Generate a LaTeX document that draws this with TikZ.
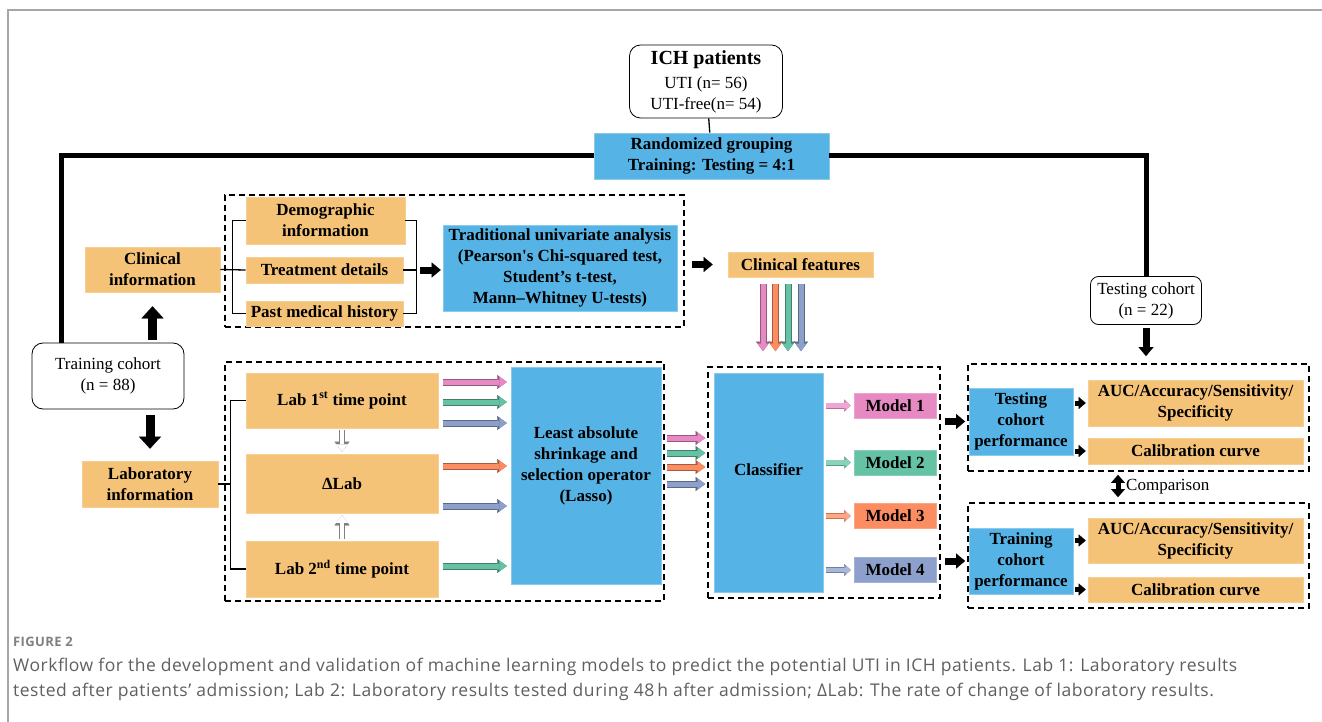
\documentclass[tikz,border=0pt]{standalone}
\usepackage{fontspec}
\setmainfont{Liberation Serif}
\newfontfamily\capfont[LetterSpace=3]{Open Sans}
\usetikzlibrary{arrows.meta, calc}

\definecolor{boxorange}{RGB}{245,195,120}
\definecolor{boxblue}{RGB}{86,179,230}
\definecolor{mpink}{RGB}{231,138,195}
\definecolor{mgreen}{RGB}{102,194,165}
\definecolor{morange}{RGB}{252,141,98}
\definecolor{mblue}{RGB}{141,160,203}
\definecolor{capgray}{RGB}{95,95,95}

\begin{document}
\begin{tikzpicture}[x=1pt, y=-1pt, font=\fontsize{17}{21}\selectfont,
    every node/.append style={align=center, inner sep=1pt},
    obox/.style={fill=boxorange, draw=boxorange!80!white, line width=0.6pt, font=\fontsize{17}{21}\selectfont\bfseries},
    bbox/.style={fill=boxblue, draw=boxblue!70!white, line width=0.6pt, font=\fontsize{17}{21}\selectfont\bfseries},
    rbox/.style={draw, fill=white, line width=0.8pt, rounded corners=11pt},
    grp/.style={draw, line width=1.8pt, dash pattern=on 6pt off 4pt},
    trunk/.style={line width=5pt},
    link/.style={line width=1.3pt},
    bigarr/.style={line width=9pt, -{Triangle[length=12pt, width=22pt, line width=0.1pt]}},
    midarr/.style={line width=7pt, -{Triangle[length=9pt, width=15pt, line width=0.1pt]}},
    smlarr/.style={line width=5pt, -{Triangle[length=7pt, width=12pt, line width=0.1pt]}},
    cmparr/.style={line width=5pt, {Triangle[length=8pt, width=14pt, line width=0.1pt]}-{Triangle[length=8pt, width=14pt, line width=0.1pt]}},
    fatarr/.style 2 args={draw=#1, line width=5pt, -{Triangle[length=7.5pt, width=11pt, line width=0.1pt]},
      preaction={draw=#2, line width=7pt, -{Triangle[length=9.5pt, width=14pt, line width=0.1pt]}}},
    modarr/.style 2 args={draw=#1, line width=4.2pt, -{Triangle[length=5pt, width=9pt, line width=0.1pt]},
      preaction={draw=#2, line width=6pt, -{Triangle[length=6.5pt, width=12pt, line width=0.1pt]}}},
    holarr/.style={draw=white, line width=4.4pt, -{Triangle[length=7.5pt, width=11.5pt, line width=0.1pt]},
      preaction={draw=gray, line width=6.6pt, -{Triangle[length=10pt, width=15pt, line width=0.1pt]}}}]
  \useasboundingbox (0,0) rectangle (1322,722);
  \draw[gray!70, line width=2pt] (8,722) -- (8,10) -- (1322,10);

  % cohort split
  \node (ich) [rbox] at (706,81.5) [minimum width=153pt, minimum height=73pt]
    {{\fontsize{20}{22}\selectfont\bfseries ICH patients}\\[3pt]UTI (n= 56)\\UTI-free(n= 54)};
  \node (rand) [bbox, minimum width=235pt, minimum height=46pt] at (711.5,156) {Randomized grouping\\Training: Testing = 4:1};
  \node (train) [rbox, minimum width=152pt, minimum height=66pt] at (108,376) {Training cohort\\(n = 88)};
  \node (test) [rbox, rounded corners=8pt, minimum width=111pt, minimum height=48pt] at (1146,300.5) {Testing cohort\\(n = 22)};
  \node (clin) [obox, minimum width=135pt, minimum height=45pt] at (152.5,269.5) {Clinical\\information};
  \node (labinfo) [obox, minimum width=136pt, minimum height=46pt] at (150,484) {Laboratory\\information};

  % dashed groups
  \node (clingrp) [grp, minimum width=459pt, minimum height=132pt] at (454.5,261) {};
  \node (labgrp) [grp, minimum width=439pt, minimum height=239pt] at (444.5,481.5) {};
  \node (clsgrp) [grp, minimum width=232pt, minimum height=231pt] at (824,482.5) {};
  \node (testgrp) [grp, minimum width=341pt, minimum height=107pt] at (1138.5,417.5) {};
  \node (traingrp) [grp, minimum width=341pt, minimum height=105pt] at (1138.5,555.5) {};

  % clinical branch
  \node (demo) [obox, minimum width=159pt, minimum height=47pt] at (325.5,220.5) {Demographic\\information};
  \node (treat) [obox, minimum width=157pt, minimum height=26pt] at (324.5,270) {Treatment details};
  \node (past) [obox, minimum width=157pt, minimum height=25pt] at (324.5,313.5) {Past medical history};
  \node (trad) [bbox, minimum width=234pt, minimum height=86pt] at (560,268)
    {Traditional univariate analysis\\(Pearson\textquotesingle s Chi-squared test,\\Student’s t-test,\\Mann–Whitney U-tests)};
  \node (clinfeat) [obox, minimum width=145pt, minimum height=25pt] at (800.5,264.5) {Clinical features};

  % laboratory branch
  \node (lab1) [obox, minimum width=192pt, minimum height=55pt] at (342,400.5) {Lab 1\textsuperscript{st} time point};
  \node (dlab) [obox, minimum width=192pt, minimum height=59pt] at (342,483.5) {ΔLab};
  \node (lab2) [obox, minimum width=192pt, minimum height=56pt] at (342,569) {Lab 2\textsuperscript{nd} time point};
  \node (lasso) [bbox, minimum width=150pt, minimum height=217pt, text depth=22pt] at (586,475.5)
    {Least absolute\\shrinkage and\\selection operator\\(Lasso)};

  % models
  \node (classif) [bbox, minimum width=109pt, minimum height=219pt, text depth=25pt] at (768.5,482.5) {Classifier};
  \node (m1) [obox, fill=mpink, draw=mpink!80!white, minimum width=82pt, minimum height=25pt] at (895,405.5) {Model 1};
  \node (m2) [obox, fill=mgreen, draw=mgreen!80!white, minimum width=82pt, minimum height=25pt] at (895,462.5) {Model 2};
  \node (m3) [obox, fill=morange, draw=morange!80!white, minimum width=82pt, minimum height=25pt] at (895,516) {Model 3};
  \node (m4) [obox, fill=mblue, draw=mblue!80!white, minimum width=82pt, minimum height=25pt] at (895,570) {Model 4};

  % evaluation
  \node (testperf) [bbox, minimum width=104pt, minimum height=67pt] at (1021,421.5) {Testing\\cohort\\performance};
  \node (auc1) [obox, minimum width=215pt, minimum height=46pt] at (1195.5,403) {AUC/Accuracy/Sensitivity/\\Specificity};
  \node (cal1) [obox, minimum width=215pt, minimum height=26pt] at (1195.5,451) {Calibration curve};
  \node (trainperf) [bbox, minimum width=104pt, minimum height=66pt] at (1021,561) {Training\\cohort\\performance};
  \node (auc2) [obox, minimum width=215pt, minimum height=45pt] at (1195.5,540.5) {AUC/Accuracy/Sensitivity/\\Specificity};
  \node (cal2) [obox, minimum width=215pt, minimum height=25pt] at (1195.5,589.5) {Calibration curve};
  \node (cmp) [anchor=west] at (1125,487) {Comparison};

  % trunk lines
  \draw[link] (ich) -- (rand);
  \draw[trunk] (rand.west) -| ($(train.north west)+(30,0)$);
  \draw[trunk] (rand.east) -| (test.north);
  \draw[bigarr, shorten <=3pt, shorten >=14pt] (clin.south |- train.north) -- (clin.south);
  \draw[bigarr, shorten <=6pt, shorten >=12pt] (labinfo.north |- train.south) -- (labinfo.north);
  \draw[midarr, shorten <=3pt, shorten >=7pt] (test.south) -- (test.south |- testgrp.north);

  % brackets
  \draw[link] (clin.east) -- (treat.west);
  \draw[link] (demo.west) -- ++(-13,0) |- (past.west);
  \draw[link] (demo.east) -- ++(11,0) |- (past.east);
  \draw[link] (treat.east) -- ++(13,0);
  \draw[midarr, shorten >=2pt] ($(treat.east)+(17,0)$) -- (trad.west |- treat.east);
  \draw[midarr, shorten <=7pt, shorten >=15pt] (clingrp.east |- clinfeat.west) -- (clinfeat.west);
  \draw[link] (lab1.west) -- ++(-15,0) |- (lab2.west);
  \draw[link] (labinfo.east) -- ++(13,0);

  % feature flows
  \foreach \c/\dx in {mpink/-37.5, morange/-25, mgreen/-12.5, mblue/0.5}
    \draw[fatarr={\c}{\c!65!black}, shorten <=7pt, shorten >=15pt]
      ($(clinfeat.south)+(\dx,0)$) -- ($(clinfeat.south |- clsgrp.north)+(\dx,0)$);
  \draw[holarr, shorten <=2pt, shorten >=2pt] (lab1.south) -- (dlab.north);
  \draw[holarr, shorten <=2pt, shorten >=2pt] (lab2.north) -- (dlab.south);
  \foreach \n/\c/\dy in {lab1/mpink/-18.5, lab1/mgreen/1.5, lab1/mblue/22.5,
                         dlab/morange/-17.5, dlab/mblue/22.5, lab2/mgreen/-3}
    \draw[fatarr={\c}{\c!65!black}, shorten <=5pt, shorten >=4pt]
      ($(\n.east)+(0,\dy)$) -- ($(\n.east -| lasso.west)+(0,\dy)$);
  \foreach \c/\dy in {mpink/-37.5, mgreen/-22.5, morange/-8.5, mblue/8.5}
    \draw[fatarr={\c}{\c!65!black}, shorten <=6pt, shorten >=2pt]
      ($(lasso.east)+(0,\dy)$) -- ($(lasso.east -| clsgrp.west)+(0,\dy)$);
  \foreach \m/\c in {m1/mpink, m2/mgreen, m3/morange, m4/mblue}
    \draw[modarr={\c!75!white}{\c!80!black}, shorten <=3pt, shorten >=3pt] (classif.east |- \m.west) -- (\m.west);

  % evaluation arrows
  \draw[midarr, shorten <=4pt, shorten >=2pt] (clsgrp.east |- testperf.west) -- (testgrp.west |- testperf.west);
  \draw[midarr, shorten <=4pt, shorten >=2pt] (clsgrp.east |- trainperf.west) -- (traingrp.west |- trainperf.west);
  \draw[smlarr, shorten <=2pt, shorten >=2pt] (testperf.east |- auc1.west) -- (auc1.west);
  \draw[smlarr, shorten <=2pt, shorten >=2pt] (testperf.east |- cal1.west) -- (cal1.west);
  \draw[smlarr, shorten <=2pt, shorten >=2pt] (trainperf.east |- auc2.west) -- (auc2.west);
  \draw[smlarr, shorten <=2pt, shorten >=2pt] (trainperf.east |- cal2.west) -- (cal2.west);
  \draw[cmparr, shorten <=3pt, shorten >=5pt] ($(cmp.west |- testgrp.south)+(-7,0)$) -- ($(cmp.west |- traingrp.north)+(-7,0)$);

  % caption
  \node (figlbl) [anchor=base west, text=gray, font=\capfont\bfseries\fontsize{13}{15}\selectfont] at (12,646) {FIGURE 2};
  \node (capa) [anchor=base west, text=capgray, font=\capfont\fontsize{17.5}{20}\selectfont] at (12,671)
    {Workflow for the development and validation of machine learning models to predict the potential UTI in ICH patients. Lab 1: Laboratory results};
  \node (capb) [anchor=base west, text=capgray, font=\capfont\fontsize{17.5}{20}\selectfont] at (12,696)
    {tested after patients’ admission; Lab 2: Laboratory results tested during 48\,h after admission; ΔLab: The rate of change of laboratory results.};
\end{tikzpicture}
\end{document}
